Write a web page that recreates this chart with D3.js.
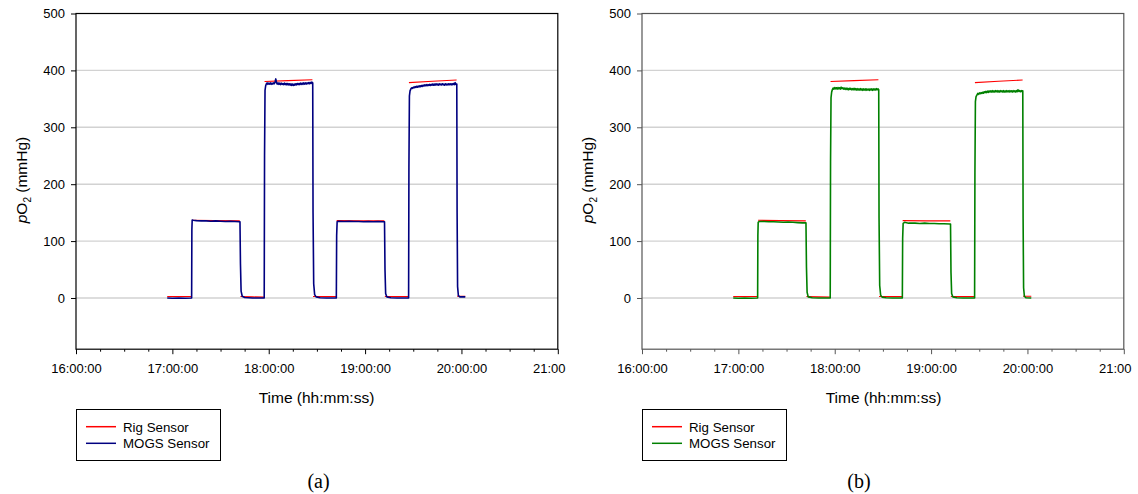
<!DOCTYPE html>
<html><head><meta charset="utf-8">
<script src="https://cdn.jsdelivr.net/npm/d3@7"></script>
<style>
body{margin:0;background:#fff}
svg{display:block}
text{font-family:Arial,"Liberation Sans",sans-serif}
text.serif{font-family:"Liberation Serif","Times New Roman",serif}
</style>
</head><body>
<svg id="chart" width="1138" height="494"></svg>
<script>
// ---- data (time = minutes after 16:00:00) ----
const xTickMinutes = [0, 60, 120, 180, 240, 300];
const xTickLabels = ["16:00:00", "17:00:00", "18:00:00", "19:00:00", "20:00:00", "21:00:00"];
const xMinorMinutes = [15, 30, 45, 75, 90, 105, 135, 150, 165, 195, 210, 225, 255, 270, 285];
const yTicks = [0, 100, 200, 300, 400, 500];
const yDomain = [-90, 500];
const seriesNames = ["Rig Sensor", "MOGS Sensor"];
const panelLabels = ["(a)", "(b)"];

// Rig sensor (null = gap between logged set-points)
const rigSensor = [
  [56.8, 2.5], [72.0, 2.5], null,
  [72.3, 136.5], [86, 136], [102.0, 135.5], null,
  [102.4, 2.5], [110, 2], [117.0, 1.5], null,
  [117.4, 380.5], [132, 382], [147.2, 383.5], null,
  [147.6, 2.5], [162.0, 2.5], null,
  [162.3, 136], [177, 135.5], [192.0, 135.5], null,
  [192.3, 2.5], [207.0, 2.5], null,
  [207.3, 378.5], [222, 381], [237.0, 383], null,
  [237.3, 3], [242.4, 3]
];

// MOGS sensor, panel (a)
const mogsSensorA = [
  [56.8,0],[60,-0.5],[64,0],[68,-0.5],[72,0],
  [72.15,120],[72.35,137],[73,136.5],[75,136],[78,135.5],[81,135.5],[84,135],[87,135.5],[90,135],[93,134.5],[96,135],[99,134.5],[101.8,134],
  [102.1,134],[102.4,60],[102.8,12],[103.5,3],[105,1],[110,0],[117,0],
  [117.2,0],[117.4,250],[117.7,365],[118.1,373],
  [118.5,376],[119,378],[119.5,375.5],[120,377.5],[120.5,376],[121,378],[121.5,375.5],[122,377.5],[122.5,376],[123,378],[123.5,376.5],[124,380],[124.4,385],[124.8,379],
  [125.3,376],[125.8,378],[126.3,375.5],[126.8,377.5],[127.3,375],[127.8,377.5],[128.3,375.5],[128.8,377],[129.3,375],[129.8,377.5],[130.3,375],[130.8,377],
  [131.3,374.5],[131.8,377],[132.3,374.5],[132.8,376.5],[133.3,374],[133.8,376.5],[134.3,373.5],[134.8,376],[135.3,373.5],[135.8,376],[136.3,374],[136.8,376.5],
  [137.3,374.5],[137.8,377],[138.3,375],[138.8,377],[139.3,375],[139.8,377.5],[140.3,375.5],[140.8,377.5],[141.3,375.5],[141.8,378],[142.3,376],[142.8,378],
  [143.3,376],[143.8,378],[144.3,376.5],[144.8,378.5],[145.3,376.5],[145.8,379],[146.3,377],[146.8,379.5],[147.2,378],
  [147.4,378],[147.6,150],[148,25],[148.6,6],[149.5,2],[152,0.5],[156,0],[162,0],
  [162.1,0],[162.3,110],[162.6,134],[163.5,135],[167,134.5],[170,135],[173,134.5],[176,134.5],[179,134],[182,134.5],[185,134],[188,134.5],[191.8,134],
  [192.1,134],[192.4,50],[192.8,8],[193.5,2],[196,0.5],[200,0],[207,0],
  [207.1,0],[207.3,230],[207.6,355],[208,364],
  [208.6,368],[209.1,369.5],[209.6,368.5],[210.1,370.5],[210.6,369.5],[211.1,371.5],[211.6,370],[212.1,372],[212.6,370.5],[213.1,372.5],[213.6,371],[214.1,373],
  [214.6,371.5],[215.1,373.5],[215.6,372],[216.1,374],[216.6,372.5],[217.1,374.5],[217.6,373],[218.1,375],[218.6,373],[219.1,375],[219.6,373.5],[220.1,375.5],
  [220.6,373.5],[221.1,375.5],[221.6,374],[222.1,376],[222.6,374],[223.1,376],[223.6,374],[224.1,376.5],[224.6,374.5],[225.1,376],[225.6,374],[226.1,376.5],
  [226.6,374.5],[227.1,376],[227.6,374.5],[228.1,376.5],[228.6,374.5],[229.1,376],[229.6,374],[230.1,376.5],[230.6,374.5],[231.1,376],[231.6,374.5],[232.1,376.5],
  [232.6,375],[233.1,376.5],[233.6,374.5],[234.1,376.5],[234.6,375],[235.1,377],[235.6,375],[236.1,378.5],[236.5,375.5],[236.9,376],
  [237.1,376],[237.3,150],[237.6,20],[238.1,4],[239,2],[242.4,2]
];

// MOGS sensor, panel (b)
const mogsSensorB = [
  [56.8,0],[60,-0.5],[64,0],[68,-0.5],[72,0],
  [72.15,110],[72.35,133],[73,134.5],[76,134.5],[79,134],[82,134],[85,133.5],[88,133],[91,133.5],[94,133],[97,132.5],[100,132],[101.8,132],
  [102.1,132],[102.4,55],[102.8,10],[103.5,2],[106,0.5],[110,0],[117,0],
  [117.2,0],[117.4,240],[117.7,352],[118.1,362],
  [118.5,366],[119,369],[119.5,367],[120,370],[120.5,367.5],[121,369.5],[121.5,367],[122,370],[122.5,367.5],[123,369.5],[123.5,367],[124,370.5],[124.5,368],
  [125,369.5],[125.5,367],[126,369],[126.5,366.5],[127,369],[127.5,366.5],[128,368.5],[128.5,366],[129,368.5],[129.5,366.5],[130,368.5],[130.5,366],[131,368],
  [131.5,366],[132,368.5],[132.5,366],[133,368],[133.5,365.5],[134,368],[134.5,365.5],[135,367.5],[135.5,365.5],[136,368],[136.5,365.5],[137,367.5],
  [137.5,365],[138,367.5],[138.5,365.5],[139,367.5],[139.5,365],[140,367.5],[140.5,365.5],[141,367],[141.5,365],[142,367.5],[142.5,365.5],[143,367.5],
  [143.5,365],[144,367.5],[144.5,365.5],[145,367.5],[145.5,365.5],[146,368],[146.5,366],[147,367.5],
  [147.4,366],[147.6,140],[148,22],[148.6,5],[149.5,1.5],[152,0.5],[156,0],[162,0],
  [162.1,0],[162.3,105],[162.6,131],[163.5,133],[166,131.5],[170,131.5],[173,131],[176,131.5],[179,131],[182,131],[185,130.5],[188,130.5],[191.8,130],
  [192.1,130],[192.4,45],[192.8,8],[193.5,2],[196,0.5],[200,0],[207,0],
  [207.1,0],[207.3,220],[207.6,345],[208,354],
  [208.6,357],[209.1,359.5],[209.6,358],[210.1,360.5],[210.6,359],[211.1,361],[211.6,359.5],[212.1,361.5],[212.6,360],[213.1,362.5],[213.6,361],[214.1,363],
  [214.6,361],[215.1,363.5],[215.6,361.5],[216.1,364],[216.6,362],[217.1,364],[217.6,362],[218.1,364.5],[218.6,362],[219.1,364],[219.6,362],[220.1,364.5],
  [220.6,362.5],[221.1,364.5],[221.6,362],[222.1,364],[222.6,362],[223.1,364.5],[223.6,362.5],[224.1,364],[224.6,362],[225.1,364.5],[225.6,362],[226.1,364],
  [226.6,362],[227.1,364.5],[227.6,362.5],[228.1,364],[228.6,362],[229.1,364.5],[229.6,362.5],[230.1,364],[230.6,362],[231.1,364.5],[231.6,362.5],[232.1,364],
  [232.6,362],[233.1,364.5],[233.6,362.5],[234.1,366],[234.6,363],[235.1,364.5],[235.6,362.5],[236.1,364.5],[236.5,363],[236.9,364],
  [237.1,364],[237.3,140],[237.6,18],[238.1,3],[239,0.5],[242.4,0]
];

// ---- drawing ----
const svg = d3.select("#chart");
const panels = [
  { offset: 0,   mogs: mogsSensorA, color: "#000080", frame: "#000000", labelX: 318.5, titleX: 316.5 },
  { offset: 566, mogs: mogsSensorB, color: "#008000", frame: "#555555", labelX: 293,   titleX: 317.5 }
];
const plot = { left: 76, right: 557.8, top: 13.5, bottom: 349.2 };

const defs = svg.append("defs");
defs.append("clipPath").attr("id", "panelClip")
  .append("rect").attr("x", 0).attr("y", 0).attr("width", 566).attr("height", 494);

panels.forEach((p, i) => {
  const g = svg.append("g").attr("transform", `translate(${p.offset},0)`)
    .attr("clip-path", "url(#panelClip)");

  const x = d3.scaleLinear().domain([0, 300]).range([plot.left, plot.right]);
  const y = d3.scaleLinear().domain(yDomain).range([plot.bottom, plot.top]);

  // gridlines
  g.append("g").selectAll("line").data(yTicks.filter(v => v < 500)).join("line")
    .attr("x1", plot.left).attr("x2", plot.right)
    .attr("y1", d => y(d)).attr("y2", d => y(d))
    .attr("stroke", "#d2d2d2").attr("stroke-width", 1.4);

  // y axis
  const ya = g.append("g").attr("transform", `translate(${plot.left},0)`)
    .call(d3.axisLeft(y).tickValues(yTicks).tickSize(5).tickPadding(6));
  ya.select(".domain").remove();
  ya.selectAll("line").attr("stroke", p.frame);
  ya.selectAll("text").attr("font-size", 13).attr("fill", "#000");

  // x axis major
  const xa = g.append("g").attr("transform", `translate(0,${plot.bottom})`)
    .call(d3.axisBottom(x).tickValues(xTickMinutes)
      .tickFormat((d, k) => xTickLabels[k]).tickSize(5).tickPadding(9.5));
  xa.select(".domain").remove();
  xa.selectAll("line").attr("stroke", p.frame);
  xa.selectAll("text").attr("font-size", 13).attr("fill", "#000");

  // x axis minor
  const xm = g.append("g").attr("transform", `translate(0,${plot.bottom})`)
    .call(d3.axisBottom(x).tickValues(xMinorMinutes).tickFormat("").tickSize(2.5));
  xm.select(".domain").remove();
  xm.selectAll("line").attr("stroke", p.frame);

  // frame
  g.append("rect").attr("x", plot.left).attr("y", plot.top)
    .attr("width", plot.right - plot.left).attr("height", plot.bottom - plot.top)
    .attr("fill", "none").attr("stroke", p.frame).attr("stroke-width", 1.2);

  // series
  const line = d3.line().defined(d => d !== null).x(d => x(d[0])).y(d => y(d[1]));
  g.append("path").datum(rigSensor).attr("d", line)
    .attr("fill", "none").attr("stroke", "#ff0000").attr("stroke-width", 1.1);
  g.append("path").datum(p.mogs).attr("d", line)
    .attr("fill", "none").attr("stroke", p.color).attr("stroke-width", 1.6)
    .attr("stroke-linejoin", "round");

  // axis titles
  g.append("text").attr("x", p.titleX).attr("y", 402.5).attr("text-anchor", "middle")
    .attr("font-size", 15.5).text("Time (hh:mm:ss)");

  const yt = g.append("text").attr("transform", "translate(26.5,180) rotate(-90)")
    .attr("text-anchor", "middle").attr("font-size", 15.5);
  yt.append("tspan").attr("font-style", "italic").text("p");
  yt.append("tspan").text("O");
  yt.append("tspan").attr("font-size", 10).attr("dy", 4).text("2");
  yt.append("tspan").attr("dy", -4).text(" (mmHg)");

  // legend
  const lg = g.append("g");
  lg.append("rect").attr("x", 76.5).attr("y", 409.5).attr("width", 144).attr("height", 51)
    .attr("fill", "#fff").attr("stroke", "#000").attr("stroke-width", 1);
  const entries = [{ name: seriesNames[0], color: "#ff0000", y: 426.7 },
                   { name: seriesNames[1], color: p.color, y: 443.3 }];
  entries.forEach(e => {
    lg.append("line").attr("x1", 86).attr("x2", 116).attr("y1", e.y).attr("y2", e.y)
      .attr("stroke", e.color).attr("stroke-width", 1.5);
    lg.append("text").attr("x", 123).attr("y", e.y + 4.8).attr("font-size", 13.3).text(e.name);
  });

  // panel label (serif)
  g.append("text").attr("class", "serif").attr("x", p.labelX).attr("y", 487.5)
    .attr("text-anchor", "middle").attr("font-size", 20)
    .text(panelLabels[i]);
});
</script>
</body></html>
